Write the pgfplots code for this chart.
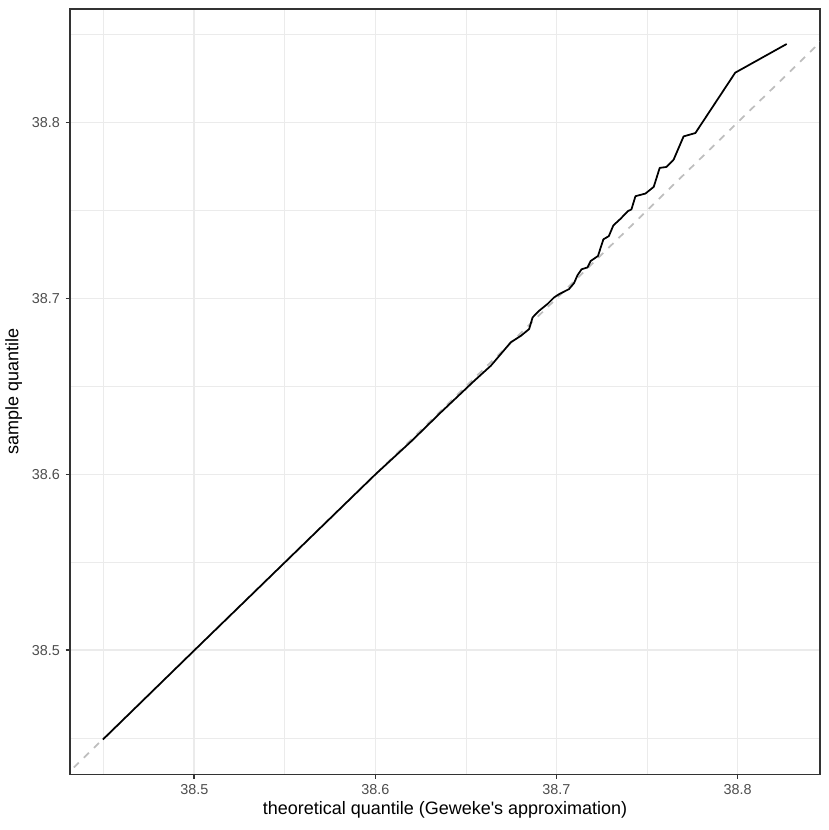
\documentclass[border=0pt]{standalone}
\usepackage{pgfplots}
\pgfplotsset{compat=1.18}
\usepackage{fontspec}
\setmainfont{Liberation Sans}
\definecolor{gridgrey}{RGB}{235,235,235}
\definecolor{bordergrey}{RGB}{51,51,51}
\definecolor{ticklab}{RGB}{77,77,77}
\definecolor{refgrey}{RGB}{190,190,190}

\begin{document}
\begin{tikzpicture}
\begin{axis}[
    scale only axis,
    width=458.5pt, height=468pt,
    xmin=38.4314, xmax=38.8455,
    ymin=38.4295, ymax=38.8645,
    xtick={38.5,38.6,38.7,38.8},
    ytick={38.5,38.6,38.7,38.8},
    xticklabels={38.5,38.6,38.7,38.8},
    yticklabels={38.5,38.6,38.7,38.8},
    minor xtick={38.45,38.55,38.65,38.75,38.85},
    minor ytick={38.45,38.55,38.65,38.75,38.85},
    grid=both,
    major grid style={gridgrey, line width=1.07pt},
    minor grid style={gridgrey, line width=0.53pt},
    tick align=outside,
    major tick length=2.75pt,
    minor tick length=0pt,
    tick style={bordergrey, line width=1.07pt},
    xtick pos=bottom, ytick pos=left,
    axis line style={bordergrey, line width=0.9pt},
    ticklabel style={font=\fontsize{8.8}{10}\selectfont, text=ticklab},
    xlabel={theoretical quantile (Geweke\textquotesingle s approximation)},
    ylabel={sample quantile},
    label style={font=\fontsize{11}{13}\selectfont},
    xlabel style={yshift=3pt},
    ylabel style={yshift=-1pt},
    clip=true,
]
\addplot[refgrey, line width=1.07pt, dash pattern=on 4.3pt off 4.3pt] coordinates {
    (38.40,38.40) (38.90,38.90)
};
\addplot[black, line width=1.07pt, line join=round] coordinates {
(38.4495,38.4493)
(38.50,38.500)
(38.55,38.550)
(38.60,38.600)
(38.62,38.619)
(38.6363,38.6354)
(38.6547,38.6533)
(38.6638,38.6618)
(38.6748,38.6751)
(38.6804,38.6788)
(38.6849,38.6826)
(38.6868,38.6892)
(38.6904,38.6930)
(38.6950,38.6968)
(38.6987,38.7006)
(38.7014,38.7024)
(38.7069,38.7053)
(38.7097,38.7087)
(38.7116,38.7132)
(38.7139,38.7166)
(38.7171,38.7176)
(38.7189,38.7213)
(38.7229,38.7241)
(38.7259,38.7336)
(38.7289,38.7354)
(38.7314,38.7415)
(38.7354,38.7453)
(38.7394,38.7496)
(38.7414,38.7506)
(38.7436,38.7581)
(38.7491,38.7596)
(38.7537,38.7634)
(38.7570,38.7742)
(38.7607,38.7747)
(38.7647,38.7789)
(38.7702,38.7921)
(38.7767,38.7940)
(38.7987,38.8283)
(38.8271,38.8446)
};
\end{axis}
\path (current axis.north east) ++(5.5pt,5.5pt);
\path (current axis.south west) ++(0pt,-34pt);
\end{tikzpicture}
\end{document}
